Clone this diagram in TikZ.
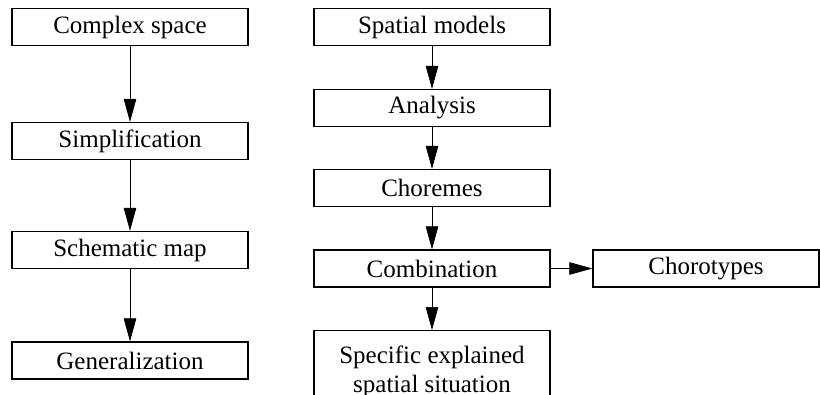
\documentclass[tikz,border=0pt]{standalone}
\usepackage{fontspec}
\setmainfont{Liberation Serif}
\usetikzlibrary{arrows.meta}
\begin{document}
\begin{tikzpicture}[x=1pt,y=-1pt,
  box/.style={draw, line width=1.3pt, minimum width=236pt, minimum height=37pt, inner sep=0pt,
    font=\fontsize{25}{29.5}\selectfont},
  conn/.style={line width=0.7pt, -{Triangle[length=23pt,width=12.5pt]}}]
\useasboundingbox (0,0) rectangle (820,394);
\clip (0,0) rectangle (820,394);
\node[box] (cs) at (130,27) {Complex space};
\node[box] (si) at (130,141) {Simplification};
\node[box] (sm) at (130,250) {Schematic map};
\node[box] (ge) at (130,360.5) {Generalization};
\node[box] (sp) at (432,27) {Spatial models};
\node[box] (an) at (432,108) {Analysis};
\node[box] (ch) at (432,188) {Choremes};
\node[box] (co) at (432,268.5) {Combination};
\node[box, minimum width=226pt] (ct) at (706,268.5) {Chorotypes};
\node[box, anchor=north, minimum height=0pt, align=center, inner ysep=15pt, text depth=50pt] (se) at (432,330) {Specific explained\\spatial situation};
\draw[conn] (cs) -- (si);
\draw[conn] (si) -- (sm);
\draw[conn] (sm) -- (ge);
\draw[conn] (sp) -- (an);
\draw[conn] (an) -- (ch);
\draw[conn] (ch) -- (co);
\draw[conn] (co) -- (ct);
\draw[conn] (co.south) -- (se.north);
\end{tikzpicture}
\end{document}
